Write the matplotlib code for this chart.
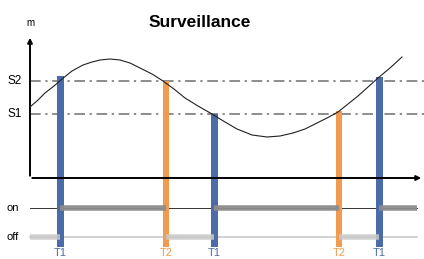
import matplotlib
matplotlib.use('Agg')
import matplotlib.pyplot as plt
from matplotlib import font_manager
import numpy as np

# level curve (time, level)
curve_t = [0, 8, 15, 24, 32, 42, 53, 62, 70, 80, 90, 100, 110, 122, 133, 144, 155, 168, 182,
           195, 207, 222, 237, 250, 263, 275, 285, 297, 308, 318, 328, 338, 348, 360, 372]
curve_m = [71, 78, 85, 92, 99, 107, 113, 116, 118, 119, 118, 115, 110, 104, 97, 89, 80, 72, 64,
           56, 49, 43, 41, 42, 45, 49, 54, 60, 66, 74, 82, 91, 100, 110, 121]
s1, s2 = 64, 97

# threshold events
event_t = [30, 136, 184, 309, 349]
event_lbl = ['T1', 'T2', 'T1', 'T2', 'T1']
event_top = [102, 97, 64, 67, 101]
event_bottom = -69

# pump state between events
on_level, off_level = -30, -59
state_t = [0, 30, 136, 184, 309, 349, 387]
state = ['off', 'on', 'off', 'on', 'off', 'on']

blue = '#4b6ca8'
orange = '#f29a4f'
dark_gray = '#8c8c8c'
light_gray = '#c9c9c9'

names = {f.name for f in font_manager.fontManager.ttflist}
title_font = 'Liberation Sans Narrow' if 'Liberation Sans Narrow' in names else 'Liberation Sans'
title_size = 15 if title_font == 'Liberation Sans Narrow' else 12.5

fig = plt.figure(figsize=(4.24, 2.59), dpi=100)
ax = fig.add_axes([0, 0, 1, 1])
ax.set_xlim(-30, 394)
ax.set_ylim(-81, 178)
ax.axis('off')

# axes with arrows
ax.annotate('', xy=(0, 143), xytext=(0, -0.5),
            arrowprops=dict(arrowstyle='-|>', color='k', lw=1.4, mutation_scale=7))
ax.annotate('', xy=(394, 0), xytext=(-0.5, 0),
            arrowprops=dict(arrowstyle='-|>', color='k', lw=1.4, mutation_scale=7))
ax.text(0, 150, 'm', fontsize=7, ha='center', va='bottom', family='Liberation Sans')

# thresholds
for lv, lb in [(s2, 'S2'), (s1, 'S1')]:
    ax.plot([0, 394], [lv, lv], color='#6e6e6e', lw=1.1, dashes=(7, 3, 1.5, 3), zorder=1)
    ax.text(-15, lv, lb, fontsize=8.5, ha='center', va='center', family='Liberation Sans')

ax.plot(curve_t, curve_m, color='#222222', lw=0.8, zorder=3)

# event bars
for t, lb, top in zip(event_t, event_lbl, event_top):
    c = blue if lb == 'T1' else orange
    w = 7 if lb == 'T1' else 6
    ax.bar(t, top - event_bottom, bottom=event_bottom, width=w, color=c, zorder=2)
    ax.text(t, -80.5, lb, fontsize=8, ha='center', va='bottom', color=c, family='Liberation Sans')

# state lines
ax.plot([0, 387], [on_level, on_level], color='#333333', lw=0.7, zorder=1)
ax.plot([0, 387], [off_level, off_level], color=light_gray, lw=1.2, zorder=1)
for i, s in enumerate(state):
    if s == 'on':
        ax.plot([state_t[i], state_t[i + 1]], [on_level, on_level], color=dark_gray,
                lw=4, alpha=0.95, solid_capstyle='butt', zorder=4)
    else:
        ax.plot([state_t[i], state_t[i + 1]], [off_level, off_level], color=light_gray,
                lw=4, alpha=0.85, solid_capstyle='butt', zorder=4)
ax.text(-17, on_level, 'on', fontsize=8, ha='center', va='center', family='Liberation Sans')
ax.text(-17, off_level, 'off', fontsize=8, ha='center', va='center', family='Liberation Sans')

ax.text(170, 155.5, 'Surveillance', fontsize=title_size, fontweight='bold', ha='center',
        va='center', family=title_font)

fig.savefig('out.png', dpi=100)
